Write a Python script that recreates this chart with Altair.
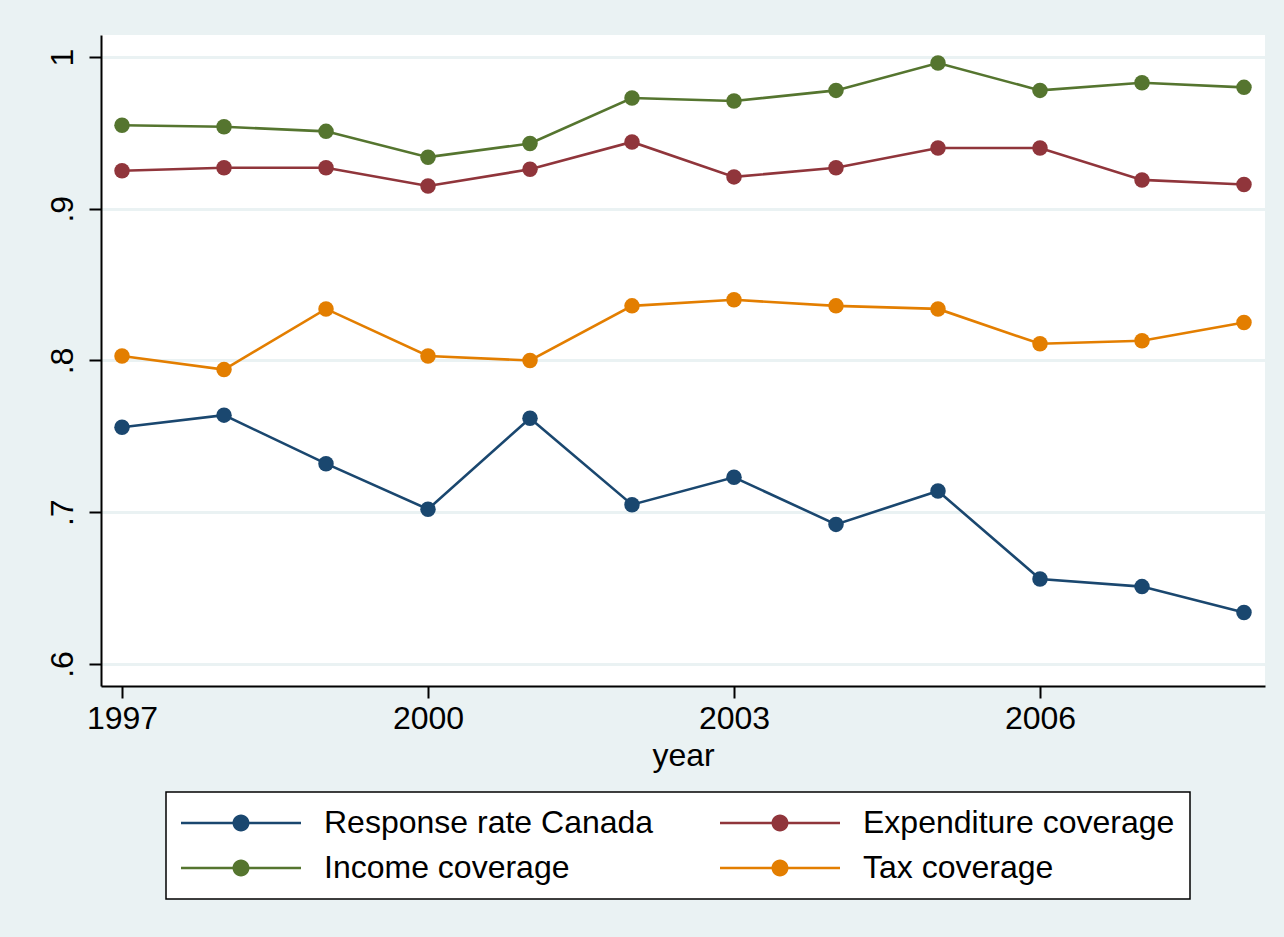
import altair as alt
import pandas as pd

# Survey years and the four series (shares, 0-1)
years = list(range(1997, 2009))
response_rate = [0.756, 0.764, 0.732, 0.702, 0.762, 0.705, 0.723, 0.692, 0.714, 0.656, 0.651, 0.634]
expenditure_cov = [0.925, 0.927, 0.927, 0.915, 0.926, 0.944, 0.921, 0.927, 0.940, 0.940, 0.919, 0.916]
income_cov = [0.955, 0.954, 0.951, 0.934, 0.943, 0.973, 0.971, 0.978, 0.996, 0.978, 0.983, 0.980]
tax_cov = [0.803, 0.794, 0.834, 0.803, 0.800, 0.836, 0.840, 0.836, 0.834, 0.811, 0.813, 0.825]

series_names = ["Response rate Canada", "Expenditure coverage", "Income coverage", "Tax coverage"]
series_colors = ["#1a476f", "#90353b", "#55752f", "#e37e00"]

x_ticks = [1997, 2000, 2003, 2006]
y_ticks = [0.6, 0.7, 0.8, 0.9, 1.0]

rows = []
for name, vals in zip(series_names, [response_rate, expenditure_cov, income_cov, tax_cov]):
    for yr, v in zip(years, vals):
        rows.append({"year": yr, "value": v, "series": name})
df = pd.DataFrame(rows)

# the legend fills column by column, so list the keys in that order
legend_order = [0, 2, 1, 3]
color_domain = [series_names[i] for i in legend_order]
color_range = [series_colors[i] for i in legend_order]

FONT = "Liberation Sans"
BG = "#EAF2F3"

# legend key: a horizontal line with a filled dot in the middle
legend_symbol = (
    "M-3.75,-0.08L3.75,-0.08L3.75,0.08L-3.75,0.08Z "
    "M-0.53,0A0.53,0.53,0,1,1,0.53,0A0.53,0.53,0,1,1,-0.53,0Z"
)

chart = (
    alt.Chart(df)
    .mark_line(
        strokeWidth=2.6,
        point=alt.OverlayMarkDef(filled=True, size=240, opacity=1),
    )
    .encode(
        x=alt.X(
            "year:Q",
            scale=alt.Scale(domain=[1996.794, 2008.206], nice=False, zero=False),
            axis=alt.Axis(
                values=x_ticks,
                format="d",
                grid=False,
                title="year",
                labelPadding=5,
                titlePadding=6,
            ),
        ),
        y=alt.Y(
            "value:Q",
            scale=alt.Scale(domain=[0.5855, 1.0145], nice=False, zero=False),
            axis=alt.Axis(
                values=y_ticks,
                labelExpr="datum.value >= 1 ? '1' : '.' + round(datum.value * 10)",
                grid=True,
                gridColor=BG,
                gridWidth=3,
                title=None,
                labelAngle=270,
                labelAlign="center",
                labelBaseline="alphabetic",
                labelPadding=17,
            ),
        ),
        color=alt.Color(
            "series:N",
            scale=alt.Scale(domain=color_domain, range=color_range),
            legend=alt.Legend(
                title=None,
                orient="none",
                legendX=65,
                legendY=757,
                columns=2,
                symbolType=legend_symbol,
                symbolSize=1024,
                symbolOffset=44,
                symbolStrokeWidth=0,
                symbolOpacity=1,
                labelFont=FONT,
                labelFontSize=32,
                labelColor="black",
                labelOffset=67,
                labelLimit=1000,
                columnPadding=66,
                rowPadding=13,
                padding=15,
                strokeColor="black",
                fillColor="white",
            ),
        ),
    )
    .properties(
        width=1164,
        height=651,
        autosize=alt.AutoSizeParams(type="none"),
        padding={"left": 101, "top": 35, "right": 19, "bottom": 251},
        background=BG,
    )
    .configure_view(fill="white", strokeWidth=0)
    .configure_legend(strokeWidth=1.5)
    .configure_axis(
        domainColor="black",
        domainWidth=2,
        tickColor="black",
        tickWidth=2,
        tickSize=12,
        labelFont=FONT,
        labelFontSize=32,
        labelColor="black",
        titleFont=FONT,
        titleFontSize=32,
        titleFontWeight="normal",
        titleColor="black",
    )
)

chart.save("out.html", embed_options={"renderer": "svg", "actions": False})
